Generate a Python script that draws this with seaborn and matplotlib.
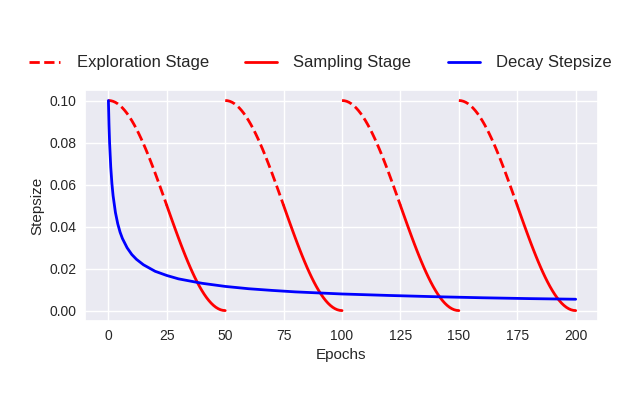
import numpy as np
import pandas as pd
import matplotlib
matplotlib.use("Agg")
import matplotlib.pyplot as plt
from matplotlib.lines import Line2D
import seaborn as sns

# ---- data ----
cycle_starts = [0, 50, 100, 150]
# stepsize over one 50-epoch cycle (epoch within cycle 0..50)
cycle_epoch = list(range(0, 51))
cycle_step = [0.10000, 0.09990, 0.09961, 0.09911, 0.09843, 0.09755, 0.09649, 0.09524,
              0.09382, 0.09222, 0.09045, 0.08853, 0.08645, 0.08423, 0.08187, 0.07939,
              0.07679, 0.07409, 0.07129, 0.06841, 0.06545, 0.06243, 0.05937, 0.05627,
              0.05314, 0.05000, 0.04686, 0.04373, 0.04063, 0.03757, 0.03455, 0.03159,
              0.02871, 0.02591, 0.02321, 0.02061, 0.01813, 0.01577, 0.01355, 0.01147,
              0.00955, 0.00778, 0.00618, 0.00476, 0.00351, 0.00245, 0.00157, 0.00089,
              0.00039, 0.00010, 0.00000]
explore_len = 25  # first half of each cycle is exploration

decay_epoch = [0, 0.25, 0.5, 1, 1.5, 2, 3, 4, 5, 6, 8, 10, 12, 15, 20, 25, 30, 40,
               50, 60, 70, 80, 90, 100, 120, 140, 160, 180, 200]
decay_step = [0.1000, 0.0885, 0.0800, 0.0683, 0.0604, 0.0547, 0.0467, 0.0413, 0.0373,
              0.0343, 0.0299, 0.0267, 0.0244, 0.0218, 0.0187, 0.0167, 0.0151, 0.0130,
              0.0115, 0.0104, 0.0096, 0.0089, 0.0084, 0.0079, 0.0072, 0.0066, 0.0061,
              0.0057, 0.0054]

x_ticks = [0, 25, 50, 75, 100, 125, 150, 175, 200]
y_ticks = [0.00, 0.02, 0.04, 0.06, 0.08, 0.10]
legend_labels = ["Exploration Stage", "Sampling Stage", "Decay Stepsize"]

# ---- plotting ----
sns.set_theme(style="darkgrid")
plt.rcParams["font.family"] = ["Liberation Sans", "DejaVu Sans"]

fig = plt.figure(figsize=(6.3, 3.93), dpi=100)
ax = fig.add_axes([0.135, 0.183, 0.814, 0.588])

ce = np.array(cycle_epoch)
cs = np.array(cycle_step)
for start in cycle_starts:
    m1 = ce <= explore_len
    m2 = ce >= explore_len
    sns.lineplot(x=start + ce[m1], y=cs[m1], ax=ax, color="red", lw=2,
                 linestyle="--", legend=False)
    sns.lineplot(x=start + ce[m2], y=cs[m2], ax=ax, color="red", lw=2,
                 legend=False)

sns.lineplot(x=decay_epoch, y=decay_step, ax=ax, color="blue", lw=2, legend=False)

ax.set_xticks(x_ticks)
ax.set_yticks(y_ticks)
ax.set_yticklabels([f"{v:.2f}" for v in y_ticks])
ax.set_xlim(-10, 209.5)
ax.set_ylim(-0.005, 0.105)
ax.tick_params(labelsize=10, colors="#262626", length=0, pad=6)
ax.set_xlabel("Epochs", fontsize=11, color="#262626", labelpad=3)
ax.set_ylabel("Stepsize", fontsize=11, color="#262626", labelpad=4)

handles = [Line2D([], [], color="red", lw=2, linestyle="--"),
           Line2D([], [], color="red", lw=2),
           Line2D([], [], color="blue", lw=2)]
fig.legend(handles, legend_labels, loc="center", ncol=3, frameon=False,
           bbox_to_anchor=(0.508, 0.84), fontsize=12, handlelength=1.9,
           handletextpad=0.98, columnspacing=2.2)

fig.savefig("out.png", dpi=100)
